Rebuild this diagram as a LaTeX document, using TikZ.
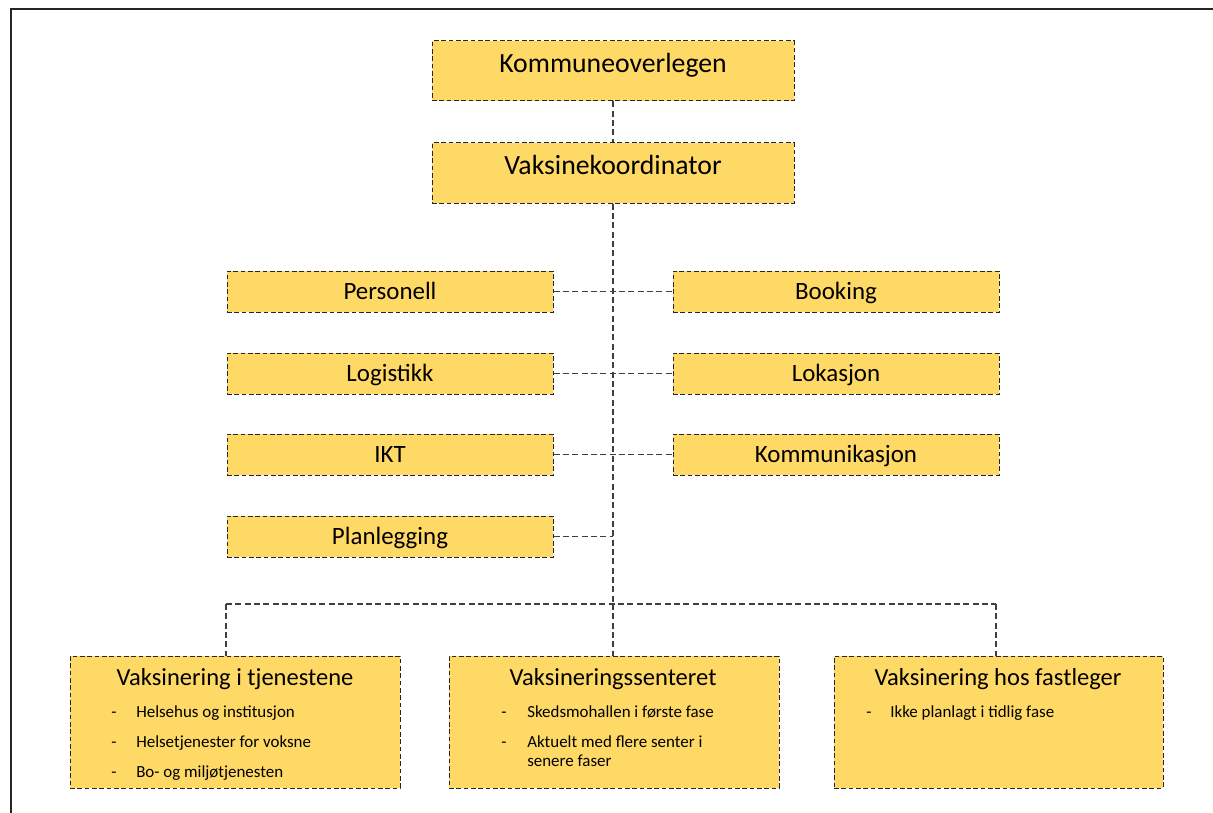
\documentclass[tikz,border=0pt]{standalone}
\usepackage{fontspec}
\setmainfont{Carlito}
\definecolor{boxfill}{HTML}{FFD966}
\definecolor{linegray}{HTML}{3F3F3F}
\begin{document}
\begin{tikzpicture}[x=0.75pt,y=-0.75pt,
  box/.style={draw=black!85, fill=boxfill, dash pattern=on 3.5pt off 2pt, line width=0.75pt, inner sep=0pt},
  topbox/.style={box, minimum width=271.5pt, minimum height=45pt},
  midbox/.style={box, minimum width=244.5pt, minimum height=30.75pt},
  botbox/.style={box, minimum width=247.5pt, minimum height=99pt},
  conn/.style={draw=linegray, line width=1.1pt, dash pattern=on 4.5pt off 2.5pt},
  toptext/.style={anchor=base, inner sep=0pt, font=\fontsize{20.8pt}{24pt}\selectfont},
  midtext/.style={anchor=base, inner sep=0pt, font=\fontsize{18.7pt}{22pt}\selectfont},
  bottitle/.style={anchor=base, inner sep=0pt, font=\fontsize{18.4pt}{22pt}\selectfont},
  bullet/.style={anchor=base west, inner sep=0pt, font=\fontsize{12.7pt}{14.6pt}\selectfont},
  frame/.style={draw=black!85, line width=1.5pt}
]
\useasboundingbox (0,0) rectangle (1213,813);
\draw[frame] (10.5,813) -- (10.5,9) -- (1213,9);

% top boxes
\node[topbox] (komm) at (613,71) {};
\node[toptext] (kommt) at (613,73) {Kommuneoverlegen};
\node[topbox] (vaks) at (613,173) {};
\node[toptext] (vakst) at (613,175) {Vaksinekoordinator};

% middle boxes
\node[midbox] (pers) at (390,291.5) {};
\node[midtext] (perst) at (390,299) {Personell};
\node[midbox] (book) at (836,291.5) {};
\node[midtext] (bookt) at (836,299) {Booking};
\node[midbox] (logi) at (390,373.5) {};
\node[midtext] (logit) at (390,381) {Logistikk};
\node[midbox] (loka) at (836,373.5) {};
\node[midtext] (lokat) at (836,381) {Lokasjon};
\node[midbox] (ikt) at (390,454.5) {};
\node[midtext] (iktt) at (390,462) {IKT};
\node[midbox] (komk) at (836,454.5) {};
\node[midtext] (komkt) at (836,462) {Kommunikasjon};
\node[midbox] (plan) at (390,536.5) {};
\node[midtext] (plant) at (390,544) {Planlegging};

% bottom boxes
\node[botbox] (b1) at (235,722) {};
\node[bottitle] (b1t) at (235,685) {Vaksinering i tjenestene};
\node[bullet] (b1d1) at (111,717) {-};
\node[bullet] (b1i1) at (136,717) {Helsehus og institusjon};
\node[bullet] (b1d2) at (111,747) {-};
\node[bullet] (b1i2) at (136,747) {Helsetjenester for voksne};
\node[bullet] (b1d3) at (111,777) {-};
\node[bullet] (b1i3) at (136,777) {Bo- og miljøtjenesten};

\node[botbox] (b2) at (614,722) {};
\node[bottitle] (b2t) at (613,685) {Vaksineringssenteret};
\node[bullet] (b2d1) at (501,717) {-};
\node[bullet] (b2i1) at (527,717) {Skedsmohallen i første fase};
\node[bullet] (b2d2) at (501,747) {-};
\node[bullet] (b2i2) at (527,747) {Aktuelt med flere senter i};
\node[bullet] (b2i2b) at (527,766) {senere faser};

\node[botbox, minimum width=246.75pt] (b3) at (998.5,722) {};
\node[bottitle] (b3t) at (998,685) {Vaksinering hos fastleger};
\node[bullet] (b3d1) at (866,717) {-};
\node[bullet] (b3i1) at (890,717) {Ikke planlagt i tidlig fase};

% connectors
\coordinate (bus) at (613,604);
\coordinate (busL) at (226,604);
\coordinate (busR) at (996,604);
\draw[conn] (komm.south) -- (vaks.north);
\draw[conn] (vaks.south) -- (bus);
\draw[conn] (pers.east) -- (book.west);
\draw[conn] (logi.east) -- (loka.west);
\draw[conn] (ikt.east) -- (komk.west);
\draw[conn] (plan.east) -- (plan.east -| bus);
\draw[conn] (busL) -- (busR);
\draw[conn] (busL) -- (busL |- b1.north);
\draw[conn] (bus) -- (b2.north -| bus);
\draw[conn] (busR) -- (busR |- b3.north);
\end{tikzpicture}
\end{document}
